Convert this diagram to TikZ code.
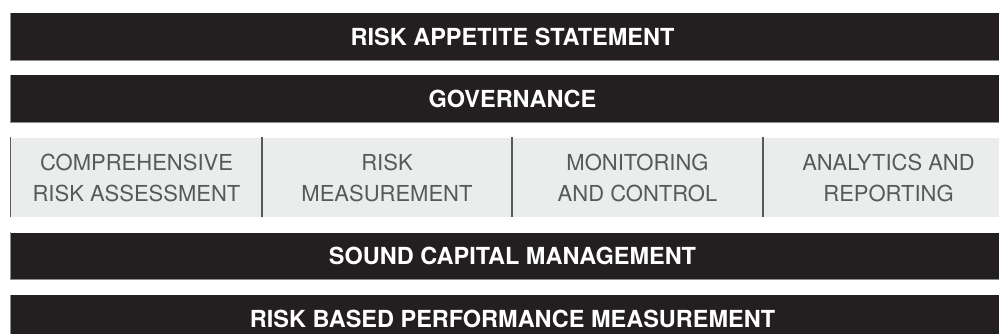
\documentclass[tikz,border=0pt]{standalone}
\usepackage{fontspec}
\setmainfont{TeX Gyre Heros}
\usepackage{tikz}

\definecolor{barblack}{HTML}{231F20}
\definecolor{paneltint}{HTML}{EBECEC}
\definecolor{linegray}{HTML}{58595B}
\definecolor{edgegray}{HTML}{8C8C8C}

\tikzset{
  bar/.style={fill=barblack,text=white,inner sep=0pt,minimum width=1003pt,minimum height=47pt,
    font=\fontsize{23.5}{28}\selectfont\bfseries},
  col/.style={text=linegray,align=center,inner sep=0pt,font=\fontsize{22}{31}\selectfont},
  edge/.style={edgegray,line width=0.9pt},
  divider/.style={linegray,line width=1.3pt}
}

\begin{document}
\begin{tikzpicture}[x=1pt,y=-1pt]
    \useasboundingbox (0,0) rectangle (999,333);
    \clip (0,0) rectangle (999,333);

    % black bars
    \node[bar] (appetite) at (512.5,36.5) {RISK APPETITE STATEMENT};
    \node[bar] (governance) at (512.5,98.5) {GOVERNANCE};
    \node[bar] (capital) at (512.5,256) {SOUND CAPITAL MANAGEMENT};
    \node[bar] (performance) at (512.5,318.5) {RISK BASED PERFORMANCE MEASUREMENT};
    \foreach\b in{appetite,governance,capital,performance}{\draw[edge](\b.north west)|-(\b.south east);};

    % grey panel with four columns
    \node[fill=paneltint,inner sep=0pt,minimum width=1003pt,minimum height=79.5pt] (panel) at (512.5,177.25) {};
    \draw[divider](panel.north west)--(panel.south west);
    \node[col] (assess) at (136.5,177.5) {COMPREHENSIVE\\RISK ASSESSMENT};
    \node[col] (measure) at (387,177.5) {RISK\\MEASUREMENT};
    \node[col] (monitor) at (637.5,177.5) {MONITORING\\AND CONTROL};
    \node[col] (report) at (888.5,177.5) {ANALYTICS AND\\REPORTING};
    \foreach\x in{262,512,763}{\draw[divider](\x,0 |- panel.north)--(\x,0 |- panel.south);};
\end{tikzpicture}
\end{document}
